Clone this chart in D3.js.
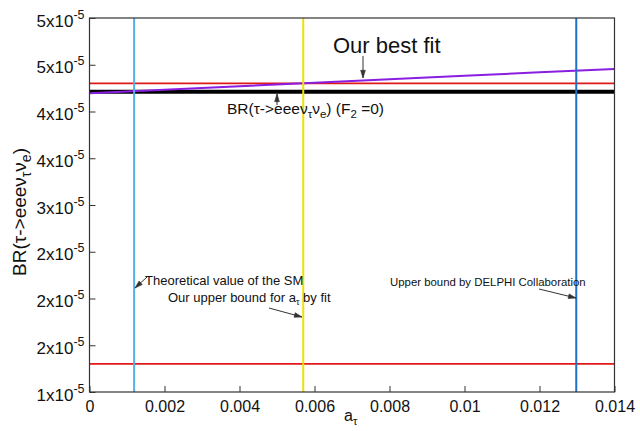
<!DOCTYPE html>
<html><head><meta charset="utf-8">
<script src="https://cdn.jsdelivr.net/npm/d3@7"></script>
<style>
html,body{margin:0;padding:0;background:#fff;}
text{font-family:"Liberation Sans",Arial,Helvetica,sans-serif;fill:#111;}
</style></head>
<body><svg id="c" width="640" height="431"></svg>
<script>
// ---- data ----
const xTicks = [0, 0.002, 0.004, 0.006, 0.008, 0.01, 0.012, 0.014];
const xTickLabels = ["0", "0.002", "0.004", "0.006", "0.008", "0.01", "0.012", "0.014"];
const yTicks = [1e-5, 1.5e-5, 2e-5, 2.5e-5, 3e-5, 3.5e-5, 4e-5, 4.5e-5, 5e-5];
const yTickMantissa = ["1", "2", "2", "2", "3", "4", "4", "5", "5"];
const bestFitX = [0, 0.002, 0.004, 0.006, 0.008, 0.01, 0.012, 0.014];
const bestFitY = [4.195e-5, 4.232e-5, 4.270e-5, 4.308e-5, 4.345e-5, 4.382e-5, 4.419e-5, 4.455e-5];
const hLineValues = [4.30e-5, 1.30e-5];      // red bounds
const smValueF2zero = 4.21e-5;               // black thick line
const vLineValues = [0.00119, 0.00570, 0.01298]; // SM, our fit bound, DELPHI bound
const vLineColors = ["#56aee8", "#f0e000", "#1f70c8"];

// ---- layout ----
const svg = d3.select("#c");
const L = 89.5, R = 614.5, T = 18, B = 392;
const x = d3.scaleLinear().domain([0, 0.014]).range([L, R]);
const y = d3.scaleLinear().domain([1e-5, 5e-5]).range([B, T]);

const g = svg.append("g");

// horizontal red lines
g.selectAll("line.red").data(hLineValues).join("line")
  .attr("x1", L).attr("x2", R)
  .attr("y1", d => y(d)).attr("y2", d => y(d))
  .attr("stroke", "#e01818").attr("stroke-width", 1.8);

// black thick line
g.append("line").attr("x1", L).attr("x2", R)
  .attr("y1", y(smValueF2zero)).attr("y2", y(smValueF2zero))
  .attr("stroke", "#000").attr("stroke-width", 4);

// best fit purple line
const line = d3.line().x((d, i) => x(bestFitX[i])).y(d => y(d));
g.append("path").datum(bestFitY).attr("d", line)
  .attr("fill", "none").attr("stroke", "#8a1ee0").attr("stroke-width", 2);

// vertical lines
g.selectAll("line.v").data(vLineValues).join("line")
  .attr("x1", d => x(d)).attr("x2", d => x(d))
  .attr("y1", T).attr("y2", B)
  .attr("stroke", (d, i) => vLineColors[i]).attr("stroke-width", 2);

// frame
svg.append("rect").attr("x", L).attr("y", T).attr("width", R - L).attr("height", B - T)
  .attr("fill", "none").attr("stroke", "#333").attr("stroke-width", 1.2);

// x axis
const xAxis = d3.axisBottom(x).tickValues(xTicks).tickSize(-6)
  .tickFormat((d, i) => xTickLabels[i]);
const xa = svg.append("g").attr("transform", `translate(0,${B})`).call(xAxis);
xa.select(".domain").remove();
xa.selectAll(".tick line").attr("stroke", "#333");
xa.selectAll(".tick text").attr("font-size", 16).attr("y", 20).attr("dy", 0)
  .attr("fill", "#111").style("font-family", "Liberation Sans, Arial, sans-serif");

// y axis
const yAxis = d3.axisLeft(y).tickValues(yTicks).tickSize(-6).tickFormat("");
const ya = svg.append("g").attr("transform", `translate(${L},0)`).call(yAxis);
ya.select(".domain").remove();
ya.selectAll(".tick line").attr("stroke", "#333");
ya.selectAll(".tick").each(function (d, i) {
  const t = d3.select(this).append("text").attr("x", -5).attr("y", 8)
    .attr("text-anchor", "end").attr("font-size", 17).attr("fill", "#111")
    .style("font-family", "Liberation Sans, Arial, sans-serif");
  t.append("tspan").text(yTickMantissa[i] + "x10");
  t.append("tspan").attr("dy", -8).attr("font-size", 12.5).text("-5");
});

// axis titles
const xt = svg.append("text").attr("x", 344).attr("y", 421).attr("font-size", 16);
xt.append("tspan").text("a");
xt.append("tspan").attr("dy", 4).attr("font-size", 11).text("τ");

const yt = svg.append("text").attr("transform", "translate(26,212) rotate(-90)")
  .attr("text-anchor", "middle").attr("font-size", 19);
yt.append("tspan").text("BR(τ->eeeν");
yt.append("tspan").attr("dy", 5).attr("font-size", 14).text("τ");
yt.append("tspan").attr("dy", -5).text("ν");
yt.append("tspan").attr("dy", 5).attr("font-size", 14).text("e");
yt.append("tspan").attr("dy", -5).text(")");

// annotations
function arrow(x1, y1, x2, y2) {
  svg.append("line").attr("x1", x1).attr("y1", y1).attr("x2", x2).attr("y2", y2)
    .attr("stroke", "#333").attr("stroke-width", 1);
  const a = Math.atan2(y2 - y1, x2 - x1), len = 8, w = 0.3;
  const p = [[x2, y2],
    [x2 - len * Math.cos(a - w), y2 - len * Math.sin(a - w)],
    [x2 - len * Math.cos(a + w), y2 - len * Math.sin(a + w)]];
  svg.append("path").attr("d", "M" + p.map(q => q.join(",")).join("L") + "Z")
    .attr("fill", "#333").attr("stroke", "#333").attr("stroke-width", 0.6);
}

svg.append("text").attr("x", 333).attr("y", 53).attr("font-size", 22).text("Our best fit");
arrow(363, 56, 363, 78);

const br = svg.append("text").attr("x", 227).attr("y", 114).attr("font-size", 15.5);
br.append("tspan").text("BR(τ->eeeν");
br.append("tspan").attr("dy", 4).attr("font-size", 11.5).text("τ");
br.append("tspan").attr("dy", -4).text("ν");
br.append("tspan").attr("dy", 4).attr("font-size", 11.5).text("e");
br.append("tspan").attr("dy", -4).text(") (F");
br.append("tspan").attr("dy", 4).attr("font-size", 11.5).text("2");
br.append("tspan").attr("dy", -4).text(" =0)");
arrow(277, 105, 277, 94);

svg.append("text").attr("x", 145).attr("y", 285).attr("font-size", 13).text("Theoretical value of the SM");
arrow(147, 277, 135, 288);

const ub = svg.append("text").attr("x", 168).attr("y", 302).attr("font-size", 13);
ub.append("tspan").text("Our upper bound for a");
ub.append("tspan").attr("dy", 3).attr("font-size", 9).text("τ");
ub.append("tspan").attr("dy", -3).text(" by fit");
arrow(269, 308, 302, 317);

svg.append("text").attr("x", 390).attr("y", 286).attr("font-size", 11.4)
  .text("Upper bound by DELPHI Collaboration");
arrow(539, 289, 576, 298);
</script></body></html>
